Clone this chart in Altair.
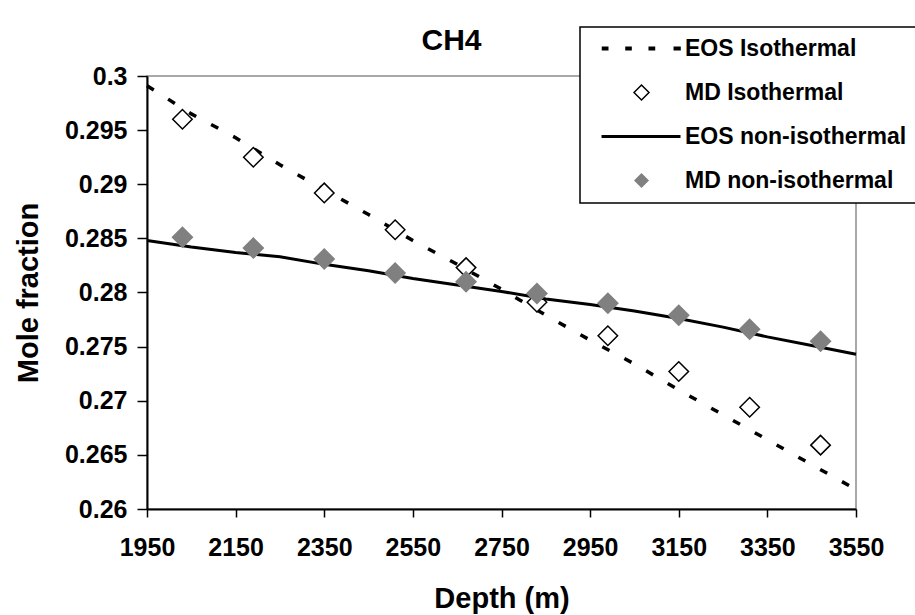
import altair as alt
import pandas as pd

# ---- data ----
series_names = ["EOS Isothermal", "MD Isothermal", "EOS non-isothermal", "MD non-isothermal"]

eos_depth = [1950, 2050, 2150, 2250, 2350, 2450, 2550, 2650, 2750,
             2850, 2950, 3050, 3150, 3250, 3350, 3450, 3550]
eos_iso = [0.2991, 0.2965, 0.2943, 0.2918, 0.2895, 0.2872, 0.2848, 0.2826, 0.2803,
           0.2779, 0.2756, 0.2734, 0.2710, 0.2687, 0.2664, 0.2641, 0.2618]
eos_non = [0.2848, 0.2842, 0.2837, 0.2833, 0.2826, 0.2820, 0.2813, 0.2807, 0.2801,
           0.2794, 0.2789, 0.2783, 0.2776, 0.2768, 0.2759, 0.2751, 0.2743]

md_depth = [2030, 2190, 2350, 2510, 2670, 2830, 2990, 3150, 3310, 3470]
md_iso = [0.2960, 0.2925, 0.2892, 0.2858, 0.2823, 0.2791, 0.2760, 0.2727, 0.2694, 0.2659]
md_non = [0.2851, 0.2841, 0.2831, 0.2818, 0.2810, 0.2799, 0.2790, 0.2779, 0.2766, 0.2755]

x_ticks = [1950, 2150, 2350, 2550, 2750, 2950, 3150, 3350, 3550]
y_ticks = [0.26, 0.265, 0.27, 0.275, 0.28, 0.285, 0.29, 0.295, 0.3]

eos_df = pd.DataFrame({
    "depth": eos_depth + eos_depth,
    "value": eos_iso + eos_non,
    "series": [series_names[0]] * len(eos_depth) + [series_names[2]] * len(eos_depth),
})
md_df = pd.DataFrame({
    "depth": md_depth + md_depth,
    "value": md_iso + md_non,
    "series": [series_names[1]] * len(md_depth) + [series_names[3]] * len(md_depth),
})

FONT = "Liberation Sans"

# legend symbols (custom paths, unit = half the legend symbol box)
DASH_PATH = ("M-5.3,-0.27H-4.4V0.27H-5.3Z M-2.17,-0.27H-1.29V0.27H-2.17Z "
             "M0.93,-0.27H1.83V0.27H0.93Z M4.27,-0.27H5.24V0.27H4.27Z")
LINE_PATH = "M-5.33,-0.2H5.2V0.2H-5.33Z"

leg = alt.Legend(title=None, orient="none", legendX=433, legendY=-49)

shape_enc = alt.Shape("series:N", scale=alt.Scale(domain=series_names,
                      range=[DASH_PATH, "diamond", LINE_PATH, "diamond"]), legend=leg)
fill_enc = alt.Fill("series:N", scale=alt.Scale(domain=series_names,
                    range=["black", "white", "black", "#808080"]), legend=leg)
stroke_enc = alt.Stroke("series:N", scale=alt.Scale(domain=series_names,
                        range=["transparent", "black", "transparent", "transparent"]), legend=leg)

x_enc = alt.X("depth:Q", scale=alt.Scale(domain=[1950, 3550], nice=False, zero=False),
              axis=alt.Axis(values=x_ticks, format="d", title="Depth (m)",
                            titleY=98, titleBaseline="alphabetic",
                            tickSize=8, labelPadding=18))
y_enc = alt.Y("value:Q", scale=alt.Scale(domain=[0.26, 0.3], nice=False, zero=False),
              axis=alt.Axis(values=y_ticks, format=".3~f", title="Mole fraction",
                            titleX=-110, titleBaseline="alphabetic",
                            tickSize=10, labelPadding=10))

line_iso = alt.Chart(eos_df).transform_filter(
    alt.datum.series == series_names[0]
).mark_line(color="black", strokeWidth=3.5, strokeDash=[8, 17]).encode(x=x_enc, y=y_enc)

pts_iso = alt.Chart(md_df).transform_filter(
    alt.datum.series == series_names[1]
).mark_point(filled=True, size=380, strokeWidth=1.5, opacity=1).encode(
    x=x_enc, y=y_enc, shape=shape_enc, fill=fill_enc, stroke=stroke_enc)

line_non = alt.Chart(eos_df).transform_filter(
    alt.datum.series == series_names[2]
).mark_line(color="black", strokeWidth=3).encode(x=x_enc, y=y_enc)

pts_non = alt.Chart(md_df).transform_filter(
    alt.datum.series == series_names[3]
).mark_point(filled=True, size=484, strokeWidth=1.5, opacity=1).encode(
    x=x_enc, y=y_enc, shape=shape_enc, fill=fill_enc, stroke=stroke_enc)

chart = alt.layer(line_iso, pts_iso, line_non, pts_non).properties(
    width=709, height=433,
    autosize=alt.AutoSizeParams(type="none"),
    padding={"left": 147, "top": 76, "right": 59, "bottom": 106},
    title=alt.TitleParams("CH4", anchor="middle", dx=-50, frame="group", offset=-54,
                          baseline="alphabetic", font=FONT, fontSize=30,
                          fontWeight="bold", color="black"),
).configure_view(
    stroke="#8c8c8c", strokeWidth=1.5
).configure_axis(
    grid=False, domainColor="black", domainWidth=2, tickColor="black", tickWidth=1.5,
    labelFont=FONT, labelFontSize=25, labelFontWeight="bold", labelColor="black",
    labelFlush=False, labelOverlap=False,
    titleFont=FONT, titleFontSize=29, titleFontWeight="bold", titleColor="black",
).configure_legend(
    padding=10, symbolSize=225, symbolOffset=40, labelOffset=32, rowPadding=20,
    symbolStrokeWidth=1.5, labelFont=FONT, labelFontSize=23, labelFontWeight="bold",
    labelColor="black", labelLimit=400, strokeColor="black", strokeWidth=1.5,
    fillColor="white",
)

chart.save("out.html", embed_options={"renderer": "svg", "actions": False})
